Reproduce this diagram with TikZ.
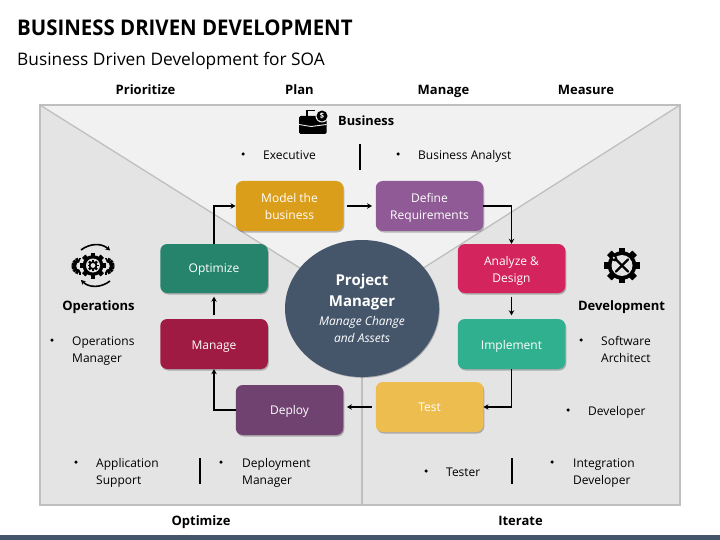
\documentclass[tikz,border=0pt]{standalone}
\usepackage{fontspec}
\setmainfont{Open Sans}
\newfontfamily\titlefont[FakeStretch=0.945]{Open Sans}
\usetikzlibrary{arrows.meta,shadows,shapes.geometric}
\definecolor{panel}{HTML}{E4E4E4}
\definecolor{toppanel}{HTML}{F1F1F1}
\definecolor{rim}{HTML}{BFBFBF}
\definecolor{slate}{HTML}{45566B}
\definecolor{cModel}{HTML}{DB9E1A}
\definecolor{cDefine}{HTML}{8F5A95}
\definecolor{cAnalyze}{HTML}{D3245D}
\definecolor{cImpl}{HTML}{31B08F}
\definecolor{cTest}{HTML}{EEBD4F}
\definecolor{cDeploy}{HTML}{6F4270}
\definecolor{cManage}{HTML}{9F1B44}
\definecolor{cOpt}{HTML}{27846C}
\newcommand{\gearshape}[5]{% x y outer-radius tooth-count hole-radius
  \foreach \ang in {1,...,#4}{
    \fill[black,rotate around={\ang*360/#4:(#1,#2)}] (#1-#3*0.17,#2-#3) rectangle (#1+#3*0.17,#2+#3);
  }
  \fill[black] (#1,#2) circle[radius=#3*0.8];
  \fill[panel] (#1,#2) circle[radius=#5];
}
\newcommand{\pushdown}[1]{\rule{0pt}{#1}}
\tikzset{
  x=1pt,y=-1pt,
  stepbox/.style={draw=none,rounded corners=7pt,minimum width=107.5pt,minimum height=50pt,inner sep=0pt,
    text=white,align=center,text depth=0pt,font=\fontsize{12}{17}\selectfont,
    drop shadow={shadow xshift=1pt,shadow yshift=-1.5pt,fill=black,opacity=0.25}},
  flow/.style={line width=1.7pt,-{Stealth[length=5pt,width=5.5pt]}},
  gapped/.style={flow,shorten <=3.5pt,shorten >=3.5pt},
  head/.style={font=\fontsize{13}{16}\selectfont\bfseries,anchor=base,inner sep=0pt},
  body/.style={font=\fontsize{12}{17}\selectfont,anchor=base west,inner sep=0pt,align=left},
  dot/.style={circle,fill=black,inner sep=0pt,minimum size=3.5pt},
  divider/.style={line width=1.6pt},
  rimline/.style={draw=rim,line width=1.3pt},
}
\begin{document}
\begin{tikzpicture}
\useasboundingbox (0,0) rectangle (720,540);
\fill[white] (0,0) rectangle (720,540);
\fill[slate] (0,535) rectangle (720,540);
% titles
\node[anchor=base west,inner sep=0pt,font=\titlefont\fontsize{21.6}{26}\selectfont\bfseries] (title) at (17,36) {BUSINESS DRIVEN DEVELOPMENT};
\node[anchor=base west,inner sep=0pt,font=\fontsize{17.3}{22}\selectfont] (subtitle) at (17,66) {Business Driven Development for SOA};
\node[head] (h1) at (145.5,94.5) {Prioritize};
\node[head] (h2) at (299.5,94.5) {Plan};
\node[head] (h3) at (443.5,94.5) {Manage};
\node[head] (h4) at (586,94.5) {Measure};
\node[head] (h5) at (201,525) {Optimize};
\node[head] (h6) at (520.5,525) {Iterate};
% panel
\fill[panel] (40,105) rectangle (680,505);
\fill[toppanel] (40,105) -- (680,105) -- (362,307) -- cycle;
\draw[rimline] (40,105) -- (362,307) -- (680,105);
\draw[rimline] (362,307) -- (362,505);
\draw[rim,line width=2pt] (40,105) rectangle (680,505);
% process boxes
\node[stepbox,fill=cModel] (model) at (289.5,206) {Model the\\business};
\node[stepbox,fill=cDefine] (define) at (429.5,206) {Define\\Requirements};
\node[stepbox,fill=cAnalyze,minimum height=49pt] (analyze) at (511.5,268.5) {\pushdown{11.5pt}Analyze \&\\Design};
\node[stepbox,fill=cImpl] (impl) at (511.5,344) {\pushdown{10.5pt}Implement};
\node[stepbox,fill=cTest] (test) at (429.5,407) {Test};
\node[stepbox,fill=cDeploy] (deploy) at (289.5,410) {Deploy};
\node[stepbox,fill=cManage] (manage) at (214,344) {\pushdown{10.5pt}Manage};
\node[stepbox,fill=cOpt,minimum height=49pt] (optimize) at (214,268.5) {Optimize};
% centre
\node[ellipse,fill=slate,minimum width=154pt,minimum height=137pt,inner sep=0pt,
  drop shadow={shadow xshift=0.8pt,shadow yshift=-0.8pt,fill=black,opacity=0.25}] (pm) at (362,308.5) {};
\node[anchor=base,inner sep=0pt,text=white,align=center,font=\fontsize{15}{21}\selectfont\bfseries] (pmtitle) at (362,306) {Project\\Manager};
\node[anchor=base,inner sep=0pt,text=white,align=center,font=\fontsize{12}{17}\selectfont\itshape] (pmsub) at (362,342) {Manage Change\\and Assets};
% connectors
\draw[flow] (optimize.north) |- (model.west);
\draw[gapped] (model.east) -- (define.west);
\draw[flow] (define.east) -| (analyze.north);
\draw[gapped] (analyze.south) -- (impl.north);
\draw[flow] (impl.south) |- (test.east);
\draw[gapped] (test.west) -- (test.west -| deploy.east);
\draw[flow] (deploy.west) -| (manage.south);
\draw[gapped] (manage.north) -- (optimize.south);
% Business group
\fill[black,rounded corners=1.5pt] (299,116) rectangle (326.5,134);
\draw[black,line width=1.2pt] (307,116) -- (307,110.5) -- (315,110.5);
\draw[toppanel,line width=0.9pt] (299,124.5) -- (311,126.5) -- (326.5,124.5);
\fill[toppanel] (322,116) circle[radius=6.5];
\fill[black] (322,116) circle[radius=5.5];
\node[inner sep=0pt,text=white,font=\fontsize{7.5}{8}\selectfont\bfseries] (dollar) at (322,116) {\$};
\node[anchor=base west,inner sep=0pt,font=\fontsize{12.8}{16}\selectfont\bfseries] (business) at (338,126) {Business};
\node[dot] (d1) at (243,154) {};
\node[body] (t1) at (263,160) {Executive};
\draw[divider] (360,144) -- (360,170);
\node[dot] (d2) at (398,154) {};
\node[body] (t2) at (418,160) {Business Analyst};
% Operations group
\gearshape{80}{266}{8.5}{7}{3.8}
\gearshape{106}{266}{8.5}{7}{3.8}
\fill[panel] (93,265.5) circle[radius=14];
\gearshape{93}{265.5}{13}{8}{7}
\gearshape{93}{265.5}{5.5}{8}{2.4}
\draw[line width=1.6pt,-{Stealth[length=4.5pt,width=5pt]}] (81,250) .. controls (90,243) and (102,243) .. (110,250.5);
\draw[line width=1.6pt,-{Stealth[length=4.5pt,width=5pt]}] (110,281) .. controls (101,288) and (89,288) .. (81,280);
\node[head] (ops) at (98.5,310) {Operations};
\node[dot] (d3) at (52,340) {};
\node[body] (t3) at (72,362.5) {Operations\\Manager};
\node[dot] (d4) at (76,462) {};
\node[body] (t4) at (96,484.5) {Application\\Support};
\draw[divider] (200,458) -- (200,484);
\node[dot] (d5) at (221,462) {};
\node[body] (t5) at (242,484.5) {Deployment\\Manager};
% Development group
\gearshape{622}{265.5}{17.8}{8}{10.5}
\begin{scope}[line cap=round]
\draw[black,line width=2.4pt] (616,259.5) -- (628,271.5);
\draw[black,line width=2.4pt] (628,259.5) -- (616,271.5);
\fill[black] (615,259) circle[radius=2.4];
\fill[panel] (613.8,257.8) circle[radius=1.2];
\end{scope}
\node[head] (dev) at (621.5,310) {Development};
\node[dot] (d6) at (581,340) {};
\node[body] (t6) at (601,362.5) {Software\\Architect};
\node[dot] (d7) at (568,410) {};
\node[body] (t7) at (588,415.5) {Developer};
\node[dot] (d8) at (426,471) {};
\node[body] (t8) at (446,476.5) {Tester};
\draw[divider] (512,458) -- (512,484);
\node[dot] (d9) at (552,462) {};
\node[body] (t9) at (573,484.5) {Integration\\Developer};
\end{tikzpicture}
\end{document}
